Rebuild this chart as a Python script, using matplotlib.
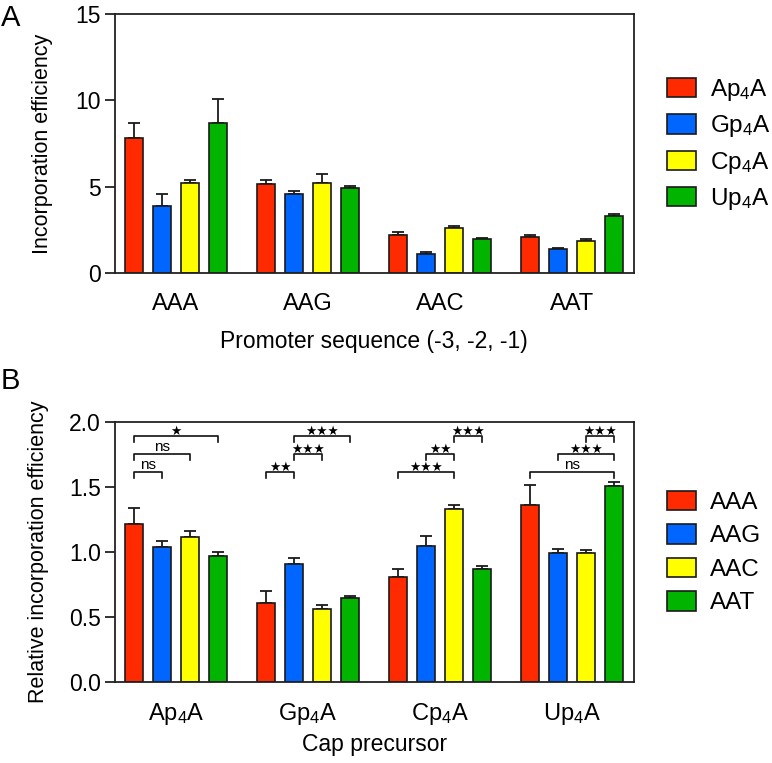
import matplotlib
matplotlib.use("Agg")
import matplotlib.pyplot as plt
import numpy as np
from matplotlib.patches import Patch

plt.rcParams['font.family'] = ['Liberation Sans', 'DejaVu Sans']
plt.rcParams['mathtext.fontset'] = 'custom'
plt.rcParams['mathtext.rm'] = 'Liberation Sans'
plt.rcParams['mathtext.it'] = 'Liberation Sans'
plt.rcParams['mathtext.default'] = 'regular'

# ---------------- data ----------------
promoters = ["AAA", "AAG", "AAC", "AAT"]
caps = ["Ap$_4$A", "Gp$_4$A", "Cp$_4$A", "Up$_4$A"]

# Panel A: incorporation efficiency, per promoter (series: cap precursor)
a_Ap4A = [7.81, 5.19, 2.21, 2.10]
a_Ap4A_err = [0.88, 0.19, 0.16, 0.11]
a_Gp4A = [3.87, 4.57, 1.10, 1.42]
a_Gp4A_err = [0.70, 0.19, 0.11, 0.02]
a_Cp4A = [5.20, 5.23, 2.64, 1.87]
a_Cp4A_err = [0.20, 0.52, 0.11, 0.09]
a_Up4A = [8.69, 4.96, 1.98, 3.31]
a_Up4A_err = [1.41, 0.08, 0.04, 0.12]

# Panel B: relative incorporation efficiency, per cap precursor (series: promoter)
b_AAA = [1.213, 0.603, 0.805, 1.357]
b_AAA_err = [0.127, 0.097, 0.065, 0.153]
b_AAG = [1.036, 0.908, 1.046, 0.987]
b_AAG_err = [0.044, 0.043, 0.074, 0.031]
b_AAC = [1.115, 0.557, 1.326, 0.987]
b_AAC_err = [0.045, 0.035, 0.034, 0.023]
b_AAT = [0.967, 0.646, 0.867, 1.505]
b_AAT_err = [0.033, 0.013, 0.023, 0.035]

# significance brackets: (group, series_i, series_j, level, label)
sig_levels = [1.61, 1.75, 1.89]
brackets = [
    (0, 0, 1, 0, "ns"), (0, 0, 2, 1, "ns"), (0, 0, 3, 2, "*"),
    (1, 0, 1, 0, "**"), (1, 1, 2, 1, "***"), (1, 1, 3, 2, "***"),
    (2, 0, 2, 0, "***"), (2, 1, 2, 1, "**"), (2, 2, 3, 2, "***"),
    (3, 0, 3, 0, "ns"), (3, 1, 3, 1, "***"), (3, 2, 3, 2, "***"),
]

colors = ['#FF2A00', '#0066FF', '#FFFF00', '#00B400']

W, H = 772, 763
fig = plt.figure(figsize=(W / 100, H / 100), dpi=100)

def px_axes(left, top, right, bottom):
    return fig.add_axes([left / W, 1 - bottom / H, (right - left) / W, (bottom - top) / H])

axA = px_axes(114.7, 14, 634, 273.3)
axB = px_axes(114.7, 421.7, 634, 681.7)

spacing = 0.212
width = 0.139
offsets = (np.arange(4) - 1.5) * spacing
xg = np.arange(4)

def draw(ax, series, errs):
    for k, (vals, er) in enumerate(zip(series, errs)):
        x = xg + offsets[k]
        ax.bar(x, vals, width=width, color=colors[k], edgecolor='#1a1a1a', linewidth=1.2, zorder=2)
        ax.errorbar(x, vals, yerr=[np.zeros(len(vals)), er], fmt='none', ecolor='#1a1a1a',
                    elinewidth=1.3, capsize=4, capthick=1.3, zorder=1)
    ax.set_xlim(-0.465, 3.47)
    for s in ax.spines.values():
        s.set_linewidth(1.3)
        s.set_color('#222222')
    ax.tick_params(axis='y', direction='out', length=7, width=1.3, labelsize=16.5, pad=3, color='#222222')
    ax.tick_params(axis='x', length=0, labelsize=17, pad=14)

draw(axA, [a_Ap4A, a_Gp4A, a_Cp4A, a_Up4A], [a_Ap4A_err, a_Gp4A_err, a_Cp4A_err, a_Up4A_err])
axA.set_ylim(0, 15)
axA.set_yticks([0, 5, 10, 15])
axA.set_xticks(xg)
axA.set_xticklabels(promoters)
axA.set_ylabel("Incorporation efficiency", fontsize=15.5, labelpad=16)
axA.set_xlabel("Promoter sequence (-3, -2, -1)", fontsize=16.5, labelpad=11)

draw(axB, [b_AAA, b_AAG, b_AAC, b_AAT], [b_AAA_err, b_AAG_err, b_AAC_err, b_AAT_err])
axB.set_ylim(0, 2.0)
axB.set_yticks([0, 0.5, 1.0, 1.5, 2.0])
axB.set_yticklabels(["0.0", "0.5", "1.0", "1.5", "2.0"])
axB.set_xticks(xg)
axB.set_xticklabels(caps)
axB.set_ylabel("Relative incorporation efficiency", fontsize=15.5, labelpad=14)
axB.set_xlabel("Cap precursor", fontsize=16.5, labelpad=4)

for g, i, j, lev, lab in brackets:
    x1 = g + offsets[i]
    x2 = g + offsets[j]
    y = sig_levels[lev]
    axB.plot([x1, x1, x2, x2], [y - 0.045, y, y, y - 0.045], color='#111111', lw=1.2, zorder=3)
    if lab == "ns":
        axB.text((x1 + x2) / 2, y + 0.004, lab, ha='center', va='bottom', fontsize=11)
    else:
        axB.text((x1 + x2) / 2, y + 0.01, "\u2605" * len(lab), ha='center', va='baseline',
                 fontsize=9, family='DejaVu Sans')

handlesA = [Patch(facecolor=c, edgecolor='#1a1a1a', linewidth=1.2) for c in colors]
legkw = dict(loc='center left', frameon=False, fontsize=17.5, handlelength=1.2, handleheight=0.85,
             handletextpad=0.6, labelspacing=0.43, borderaxespad=0, borderpad=0)
fig.legend(handlesA, caps, bbox_to_anchor=(666.5 / W, 1 - 144.5 / H), **legkw)
fig.legend(handlesA, promoters, bbox_to_anchor=(666.5 / W, 1 - 552.5 / H), **legkw)

fig.text(1 / W, 1 - 18 / H, "A", fontsize=21, va='center', ha='left')
fig.text(1 / W, 1 - 381 / H, "B", fontsize=21, va='center', ha='left')

fig.savefig("out.png", dpi=100)
